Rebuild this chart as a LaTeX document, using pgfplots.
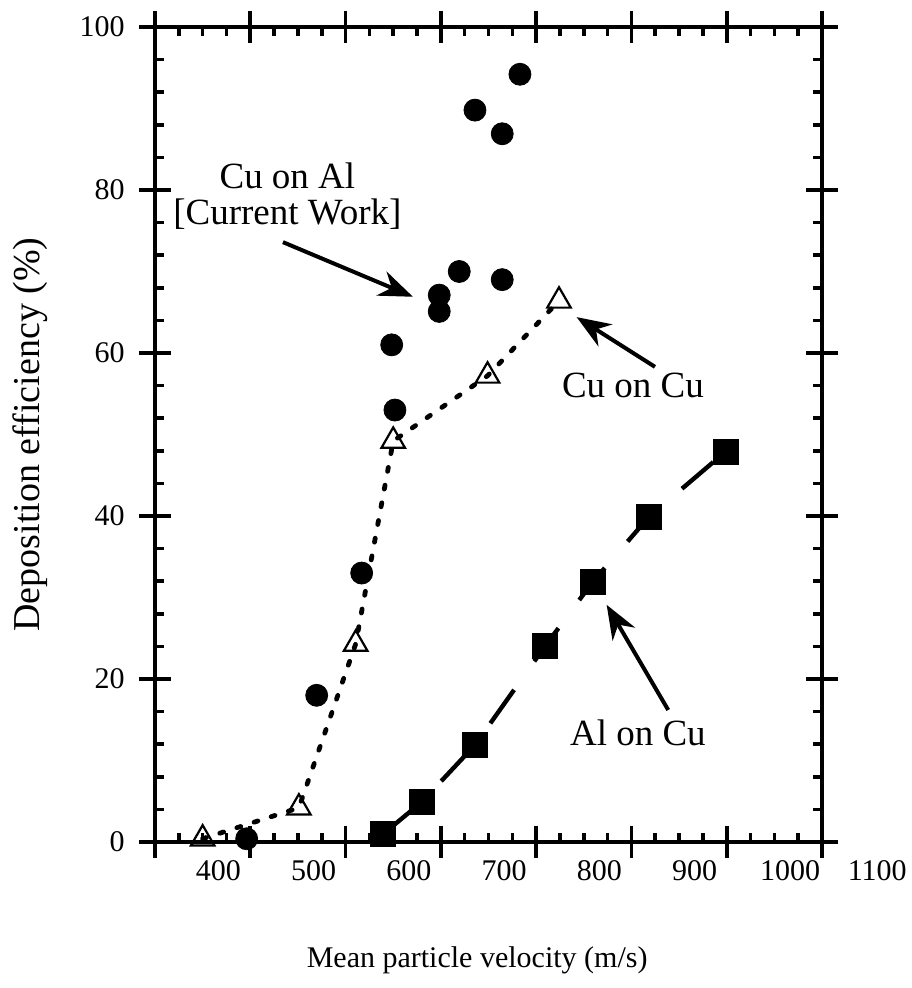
\documentclass[border=0pt]{standalone}
\usepackage{fontspec}
\setmainfont{Liberation Serif}
\usepackage{pgfplots}
\pgfplotsset{compat=1.18}
\usetikzlibrary{arrows.meta}

\newcommand{\tickfont}{\fontsize{15bp}{18bp}\selectfont}
\newcommand{\annfont}{\fontsize{18.5bp}{22bp}\selectfont}

\begin{document}
\begin{tikzpicture}
\begin{axis}[
  scale only axis, width=333.5bp, height=407.5bp,
  xmin=300, xmax=1000, ymin=0, ymax=100,
  clip=false,
  axis line style={line width=2bp},
  xtick={300,400,...,1000},
  xticklabels={,400,500,600,700,800,900,1000},
  ytick={0,20,...,100},
  yticklabels={0,20,40,60,80,100},
  minor x tick num=3, minor y tick num=4,
  tick align=inside,
  major tick length=8bp, minor tick length=4.5bp,
  tick style={black, line width=1.8bp},
  extra x ticks={300,400,...,1000}, extra x tick labels={},
  extra y ticks={0,20,...,100}, extra y tick labels={},
  extra tick style={tick align=outside, major tick length=8bp},
  ticklabel style={font=\tickfont, inner sep=0pt},
  xticklabel style={anchor=north, xshift=-16bp, yshift=-9bp},
  yticklabel style={anchor=east, xshift=-15bp},
  xlabel={Mean particle velocity (m/s)},
  ylabel={Deposition efficiency (\%)},
  xlabel style={font=\fontsize{15bp}{18bp}\selectfont,
    at={(axis description cs:0.483,-0.1448)}, anchor=center},
  ylabel style={font=\fontsize{19bp}{22bp}\selectfont,
    at={(axis description cs:-0.1874,0.5)}, anchor=center},
]

% Al on Cu
\addplot[black, line width=2.2bp, dash pattern=on 20.5bp off 17.5bp, dash phase=36.75bp,
  mark=square*, mark size=5.4bp, mark options={solid}] coordinates {
  (539.6,1.0) (579.9,4.9) (635.8,11.9) (709.2,24.0) (759.3,31.9) (818.4,39.9) (898.8,47.9)
};

% Cu on Cu
\addplot[black, line width=2.4bp, line cap=round, dash pattern=on 2bp off 7bp,
  mark=triangle, mark size=6.8bp, mark options={solid, fill=white, line width=1.1bp}] coordinates {
  (350,0.4) (451,4.2) (510.6,24.3) (550,49.2) (649,57.2) (724,66.4)
};

% Cu on Al (current work)
\addplot[only marks, black, mark=*, mark size=5.5bp] coordinates {
  (396.2,0.4) (469.7,18.0) (516.9,33.0) (548.4,61.0) (551.8,53.0)
  (598.3,67.1) (598.3,65.1) (619.3,70.0) (664.4,69.0)
  (635.8,89.8) (664.4,86.9) (683,94.2)
};

\draw[line width=2bp, -{Stealth[length=17bp,width=13bp]}] (axis cs:434.3,73.6) -- (axis cs:570.7,66.9);
\draw[line width=2bp, -{Stealth[length=17bp,width=13bp]}] (axis cs:824.7,58.3) -- (axis cs:742.5,64.4);
\draw[line width=2bp, -{Stealth[length=17bp,width=13bp]}] (axis cs:838.6,16.2) -- (axis cs:774,29.1);

\node[anchor=base, font=\annfont] at (axis cs:439,80.2) {Cu on Al};
\node[anchor=base, font=\annfont] at (axis cs:439,75.8) {[Current Work]};
\node[anchor=base, font=\annfont] at (axis cs:801.6,54.5) {Cu on Cu};
\node[anchor=base, font=\annfont] at (axis cs:806.8,11.8) {Al on Cu};

\node[anchor=north, inner sep=0pt, xshift=-20bp, yshift=-9bp, font=\tickfont] at (axis cs:1100,0) {1100};

\coordinate (BL) at (rel axis cs:0,0);
\coordinate (TR) at (rel axis cs:1,1);
\end{axis}
\pgfresetboundingbox
\path ([shift={(-77.5bp,-73bp)}]BL) rectangle ([shift={(45bp,13.5bp)}]TR);
\end{tikzpicture}
\end{document}
